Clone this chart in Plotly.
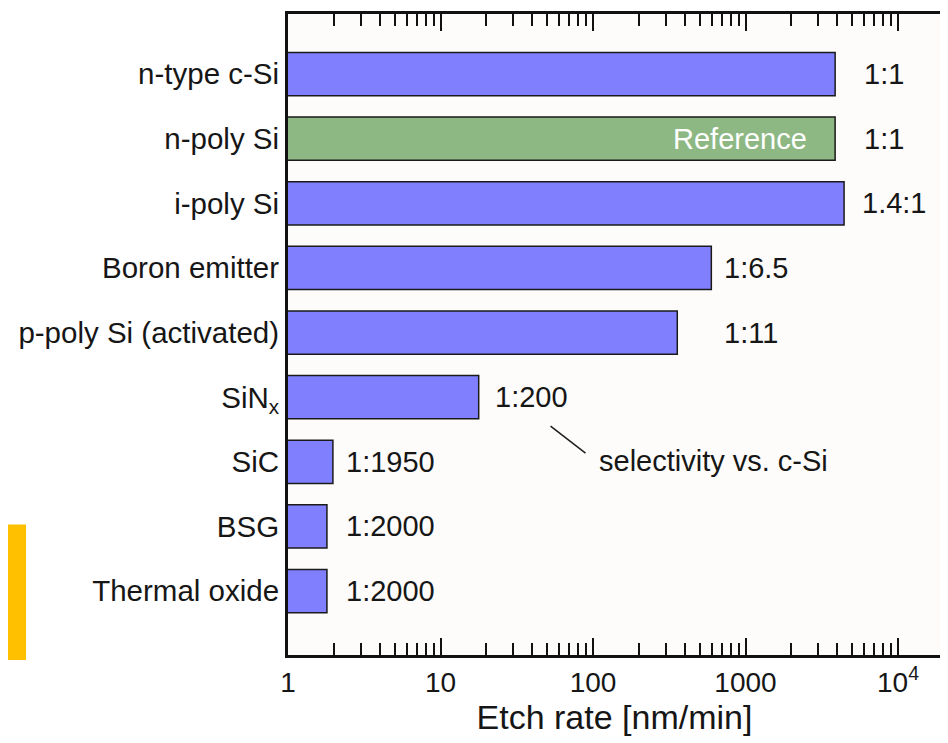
import math
import plotly.graph_objects as go

# ---------------- data ----------------
categories = ["n-type c-Si", "n-poly Si", "i-poly Si", "Boron emitter",
              "p-poly Si (activated)", "SiN<sub>x</sub>", "SiC", "BSG", "Thermal oxide"]
etch_rate = [3870, 3870, 4430, 597, 357, 17.8, 1.97, 1.80, 1.80]
selectivity = ["1:1", "1:1", "1.4:1", "1:6.5", "1:11", "1:200", "1:1950", "1:2000", "1:2000"]
is_reference = [False, True, False, False, False, False, False, False, False]
reference_label = "Reference"
note_text = "selectivity vs. c-Si"
x_title = "Etch rate [nm/min]"
major_ticks = [1, 10, 100, 1000, 10000]
major_tick_text = ["1", "10", "100", "1000", "10<sup>4</sup>"]

# ---------------- styling / layout ----------------
FONT = "Liberation Sans, Arial, sans-serif"
TXT = "#161616"
BLUE = "#8080FF"
GREEN = "#8DB883"
order = list(reversed(categories))  # bottom-to-top

colors = [GREEN if r else BLUE for r in is_reference]

fig = go.Figure()
fig.add_trace(go.Bar(
    y=categories, x=etch_rate, orientation="h",
    marker=dict(color=colors, line=dict(color="#1a1a1a", width=1.5)),
    width=0.67, showlegend=False, hoverinfo="x+y",
))

label_x = [5800, 5800, 5650, 705, 705, 22, 2.33, 2.33, 2.33]
annotations = []
for cat, sel, lx in zip(categories, selectivity, label_x):
    annotations.append(dict(x=math.log10(lx), y=cat, text=sel, showarrow=False,
                            xanchor="left", yanchor="middle", xref="x", yref="y",
                            font=dict(family=FONT, size=29, color=TXT)))
ref_idx = is_reference.index(True)
annotations.append(dict(x=math.log10(etch_rate[ref_idx]), xshift=-26, y=categories[ref_idx],
                        text=reference_label, showarrow=False, xanchor="right",
                        yanchor="middle", font=dict(family=FONT, size=29, color="white")))
annotations.append(dict(x=math.log10(107), y=2.01, text=note_text, showarrow=False,
                        xanchor="left", yanchor="middle",
                        font=dict(family=FONT, size=29, color=TXT)))

minor_vals = [m * 10 ** d for d in range(0, 5) for m in range(2, 10) if m * 10 ** d < 19000]

fig.update_layout(
    width=940, height=735,
    margin=dict(l=280, r=7, t=3, b=88),
    paper_bgcolor="white", plot_bgcolor="#FDFCFA",
    annotations=annotations,
    shapes=[
        dict(type="line", xref="x", yref="y", x0=52.7, x1=89.3, y0=2.551, y1=2.135,
             line=dict(color="#1e1e1e", width=1.5)),
        dict(type="rect", xref="paper", yref="paper", x0=-0.4288, x1=-0.4012,
             y0=-0.0078, y1=0.2034, fillcolor="#FFC000", line=dict(width=0), layer="above"),
    ],
    xaxis=dict(
        type="log", range=[0, 4.282],
        tickmode="array", tickvals=major_ticks, ticktext=major_tick_text,
        ticks="inside", ticklen=17, tickwidth=2, tickcolor="#111",
        showline=True, linewidth=3, linecolor="#111", mirror="allticks",
        showgrid=False, zeroline=False,
        tickfont=dict(family=FONT, size=28, color=TXT),
        title=dict(text=x_title, font=dict(family=FONT, size=34, color=TXT), standoff=4),
        minor=dict(tickmode="array", tickvals=minor_vals, ticks="inside", ticklen=12,
                   tickwidth=2, tickcolor="#111", showgrid=False),
    ),
    yaxis=dict(
        type="category", categoryorder="array", categoryarray=order,
        range=[-0.99, 8.93], ticks="", showline=True, linewidth=3, linecolor="#111",
        mirror=True, showgrid=False, zeroline=False, ticklabelstandoff=0,
        tickfont=dict(family=FONT, size=29.5, color=TXT),
    ),
)

fig.write_html("out.html")
